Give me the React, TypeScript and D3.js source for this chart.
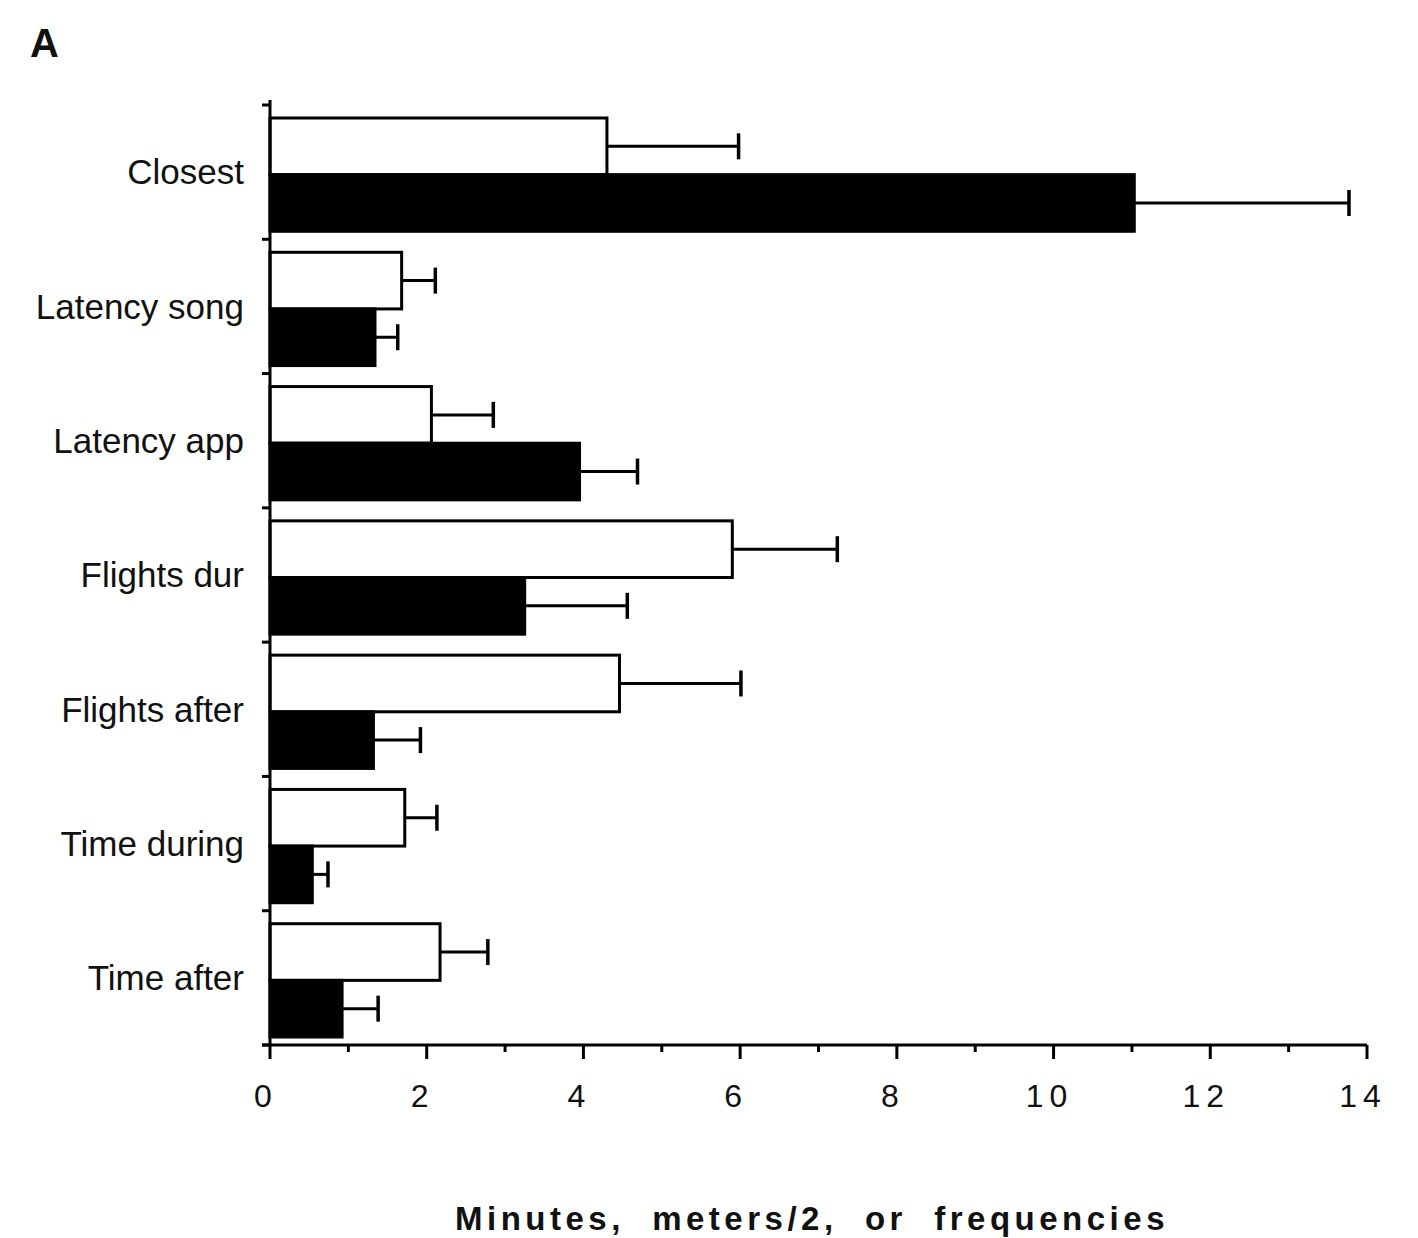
import React, { useEffect, useRef } from "react";
import * as d3 from "d3";

const categories = ["Closest", "Latency song", "Latency app", "Flights dur", "Flights after", "Time during", "Time after"];
const openValues = [4.3, 1.68, 2.06, 5.9, 4.46, 1.72, 2.17];
const openErrors = [1.68, 0.43, 0.79, 1.34, 1.55, 0.41, 0.61];
const filledValues = [11.03, 1.34, 3.95, 3.25, 1.32, 0.54, 0.92];
const filledErrors = [2.74, 0.29, 0.74, 1.31, 0.6, 0.2, 0.46];
const xTicks = [0, 2, 4, 6, 8, 10, 12, 14];
const xMinorTicks = [1, 3, 5, 7, 9, 11, 13];
const panelLabel = "A";
const xTitle = "Minutes,  meters/2,  or  frequencies";

const W = 1418;
const H = 1238;

export default function App() {
  const ref = useRef<SVGSVGElement | null>(null);

  useEffect(() => {
    document.body.style.margin = "0";
    const svg = d3.select(ref.current);
    svg.selectAll("*").remove();

    const x = d3.scaleLinear().domain([0, 14]).range([270, 1367]);
    const y = d3.scaleBand<string>().domain(categories).range([105, 1045]);
    const sub = d3.scaleBand<string>().domain(["open", "filled"]).range([13, y.bandwidth() - 8]);

    const font = "'Liberation Sans', Arial, sans-serif";

    svg.append("text").attr("x", 30).attr("y", 57).attr("font-family", font)
      .attr("font-size", 40).attr("font-weight", "bold").attr("fill", "#111").text(panelLabel);

    const rows = svg.append("g").selectAll("g").data(categories).join("g")
      .attr("transform", (d) => `translate(0,${y(d)})`);

    const series = [
      { key: "open", vals: openValues, errs: openErrors, fill: "#fff" },
      { key: "filled", vals: filledValues, errs: filledErrors, fill: "#000" },
    ];

    series.forEach((s) => {
      rows.each(function (_d, i) {
        const g = d3.select(this);
        const y0 = sub(s.key)!;
        const h = sub.bandwidth();
        const cy = y0 + h / 2;
        const v = s.vals[i];
        const e = v + s.errs[i];
        g.append("line").attr("x1", x(v)).attr("x2", x(e)).attr("y1", cy).attr("y2", cy)
          .attr("stroke", "#000").attr("stroke-width", 3);
        g.append("line").attr("x1", x(e)).attr("x2", x(e)).attr("y1", cy - 13).attr("y2", cy + 13)
          .attr("stroke", "#000").attr("stroke-width", 3.5);
        g.append("rect").attr("x", x(0)).attr("y", y0).attr("width", x(v) - x(0)).attr("height", h)
          .attr("fill", s.fill).attr("stroke", "#000").attr("stroke-width", 3);
      });
    });

    rows.append("text").attr("x", 244).attr("y", y.bandwidth() / 2 + 3)
      .attr("text-anchor", "end").attr("dominant-baseline", "middle")
      .attr("font-family", font).attr("font-size", 35).attr("fill", "#111")
      .text((d) => d);

    // y axis line with band boundary ticks
    const bounds = [105, ...categories.map((c) => y(c)! + y.bandwidth())];
    svg.append("line").attr("x1", x(0)).attr("x2", x(0)).attr("y1", 100).attr("y2", 1045)
      .attr("stroke", "#000").attr("stroke-width", 3);
    svg.append("g").selectAll("line").data(bounds).join("line")
      .attr("x1", x(0) - 8).attr("x2", x(0)).attr("y1", (d) => d).attr("y2", (d) => d)
      .attr("stroke", "#000").attr("stroke-width", 3);

    // x axis
    const axis = svg.append("g").attr("transform", "translate(0,1045)");
    axis.append("line").attr("x1", x(0) - 8).attr("x2", x(14)).attr("y1", 0).attr("y2", 0)
      .attr("stroke", "#000").attr("stroke-width", 3);
    axis.selectAll("line.maj").data(xTicks).join("line").attr("class", "maj")
      .attr("x1", (d) => x(d)).attr("x2", (d) => x(d)).attr("y1", 0).attr("y2", 14)
      .attr("stroke", "#000").attr("stroke-width", 3);
    axis.selectAll("line.min").data(xMinorTicks).join("line").attr("class", "min")
      .attr("x1", (d) => x(d)).attr("x2", (d) => x(d)).attr("y1", 0).attr("y2", 7)
      .attr("stroke", "#000").attr("stroke-width", 3);
    axis.selectAll("text").data(xTicks).join("text")
      .attr("x", (d) => x(d) - 4).attr("y", 62).attr("text-anchor", "middle")
      .attr("font-family", font).attr("font-size", 32).attr("fill", "#111")
      .attr("letter-spacing", 6)
      .text((d) => String(d));

    svg.append("text").attr("x", 812).attr("y", 1230).attr("text-anchor", "middle")
      .attr("font-family", font).attr("font-size", 33).attr("font-weight", "bold")
      .attr("letter-spacing", 4.5).attr("fill", "#111")
      .style("white-space", "pre").attr("xml:space", "preserve")
      .text(xTitle);
  }, []);

  return (
    <svg ref={ref} width={W} height={H} style={{ display: "block", background: "#fff" }} />
  );
}
